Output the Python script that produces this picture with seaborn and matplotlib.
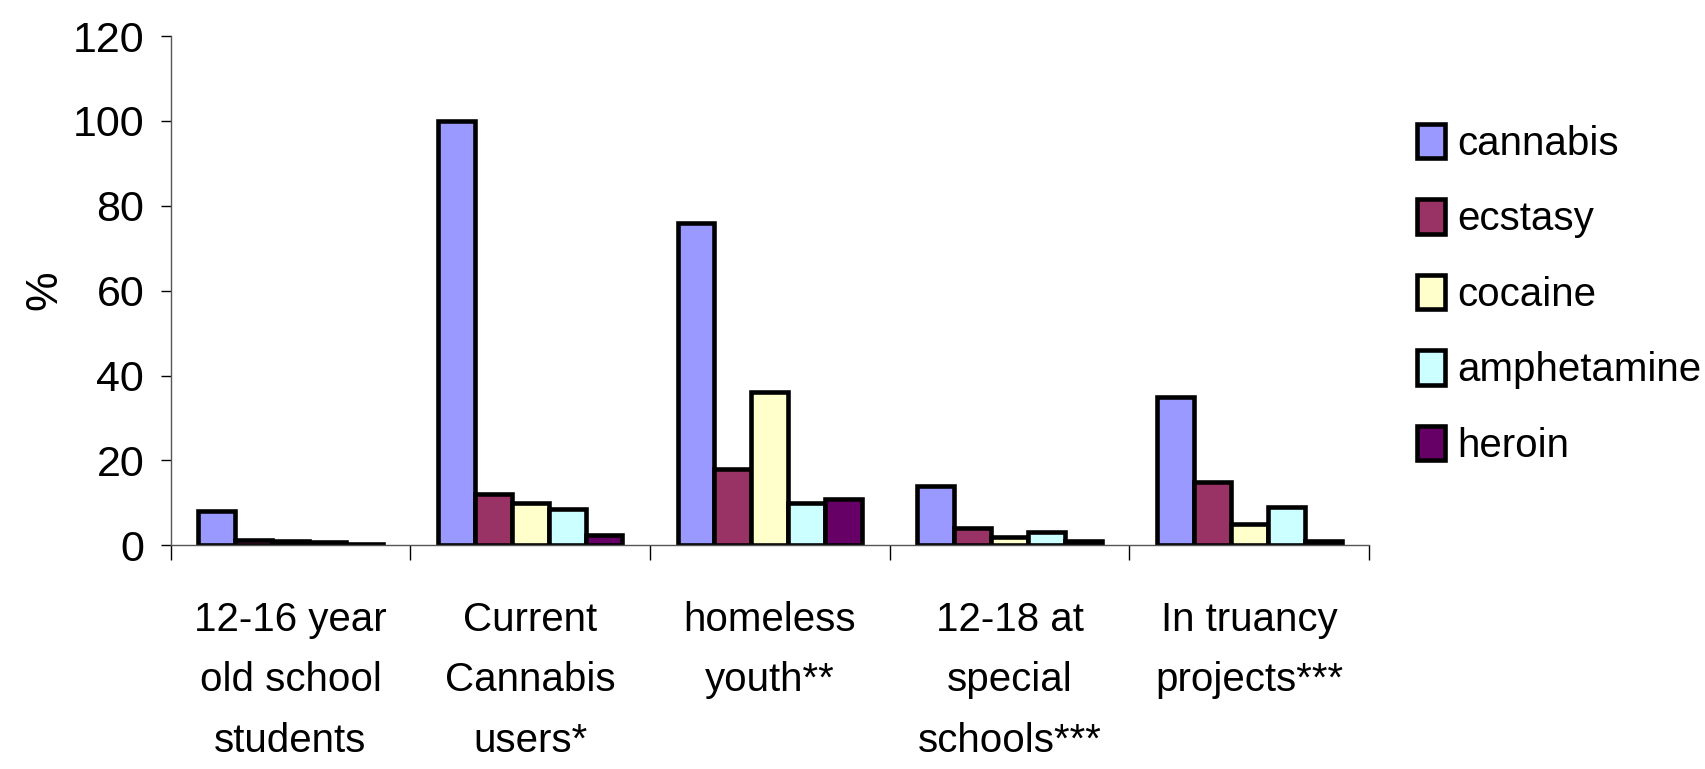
import seaborn as sns
import pandas as pd
import matplotlib.pyplot as plt

groups = ["12-16 year\nold school\nstudents", "Current\nCannabis\nusers*", "homeless\nyouth**",
          "12-18 at\nspecial\nschools***", "In truancy\nprojects***"]
drugs = ["cannabis", "ecstasy", "cocaine", "amphetamine", "heroin"]
cannabis = [8, 100, 76, 14, 35]
ecstasy = [1.2, 12, 18, 4, 15]
cocaine = [1.0, 10, 36, 2, 5]
amphetamine = [0.7, 8.5, 10, 3, 9]
heroin = [0.3, 2.3, 11, 1, 1]
colors = ["#9999FF", "#993366", "#FFFFCC", "#CCFFFF", "#660066"]

rows = []
for d, vals in zip(drugs, [cannabis, ecstasy, cocaine, amphetamine, heroin]):
    for g, v in zip(groups, vals):
        rows.append({"group": g, "drug": d, "value": v})
df = pd.DataFrame(rows)

sns.set_style("white")
plt.rcParams["font.family"] = ["Liberation Sans", "DejaVu Sans"]
plt.rcParams["text.color"] = "black"
plt.rcParams["xtick.color"] = "black"
plt.rcParams["ytick.color"] = "black"
plt.rcParams["axes.labelcolor"] = "black"

fig = plt.figure(figsize=(17.06, 7.69), dpi=100)
ax = fig.add_axes([0.100, 0.291, 0.7025, 0.662])

sns.barplot(data=df, x="group", y="value", hue="drug", palette=colors, ax=ax,
            width=0.77, edgecolor="black", linewidth=3.3, saturation=1, legend=True)

ax.set_ylim(0, 120)
ax.set_xlim(-0.5, 4.5)
ax.set_yticks(range(0, 121, 20))
ax.tick_params(axis="y", labelsize=31, length=7, width=1, direction="out", left=True, pad=12)
ax.tick_params(axis="x", which="major", length=0, labelsize=29, pad=40)
ax.set_xticks([i - 0.5 for i in range(6)], minor=True)
ax.tick_params(axis="x", which="minor", length=11, width=1, direction="out", bottom=True)
for lab in ax.get_xticklabels():
    lab.set_linespacing(1.75)
ax.set_xlabel("")
ax.set_ylabel("%", fontsize=32)
ax.yaxis.set_label_coords(-0.088, 0.5)
for s in ["top", "right"]:
    ax.spines[s].set_visible(False)
for s in ["left", "bottom"]:
    ax.spines[s].set_color("#555555")
    ax.spines[s].set_linewidth(1)

ax.legend(loc="center left", bbox_to_anchor=(1.01, 0.493), frameon=False, fontsize=29,
          handlelength=0.68, handleheight=0.95, handletextpad=0.3, labelspacing=0.9)

fig.savefig("out.png", dpi=100)
